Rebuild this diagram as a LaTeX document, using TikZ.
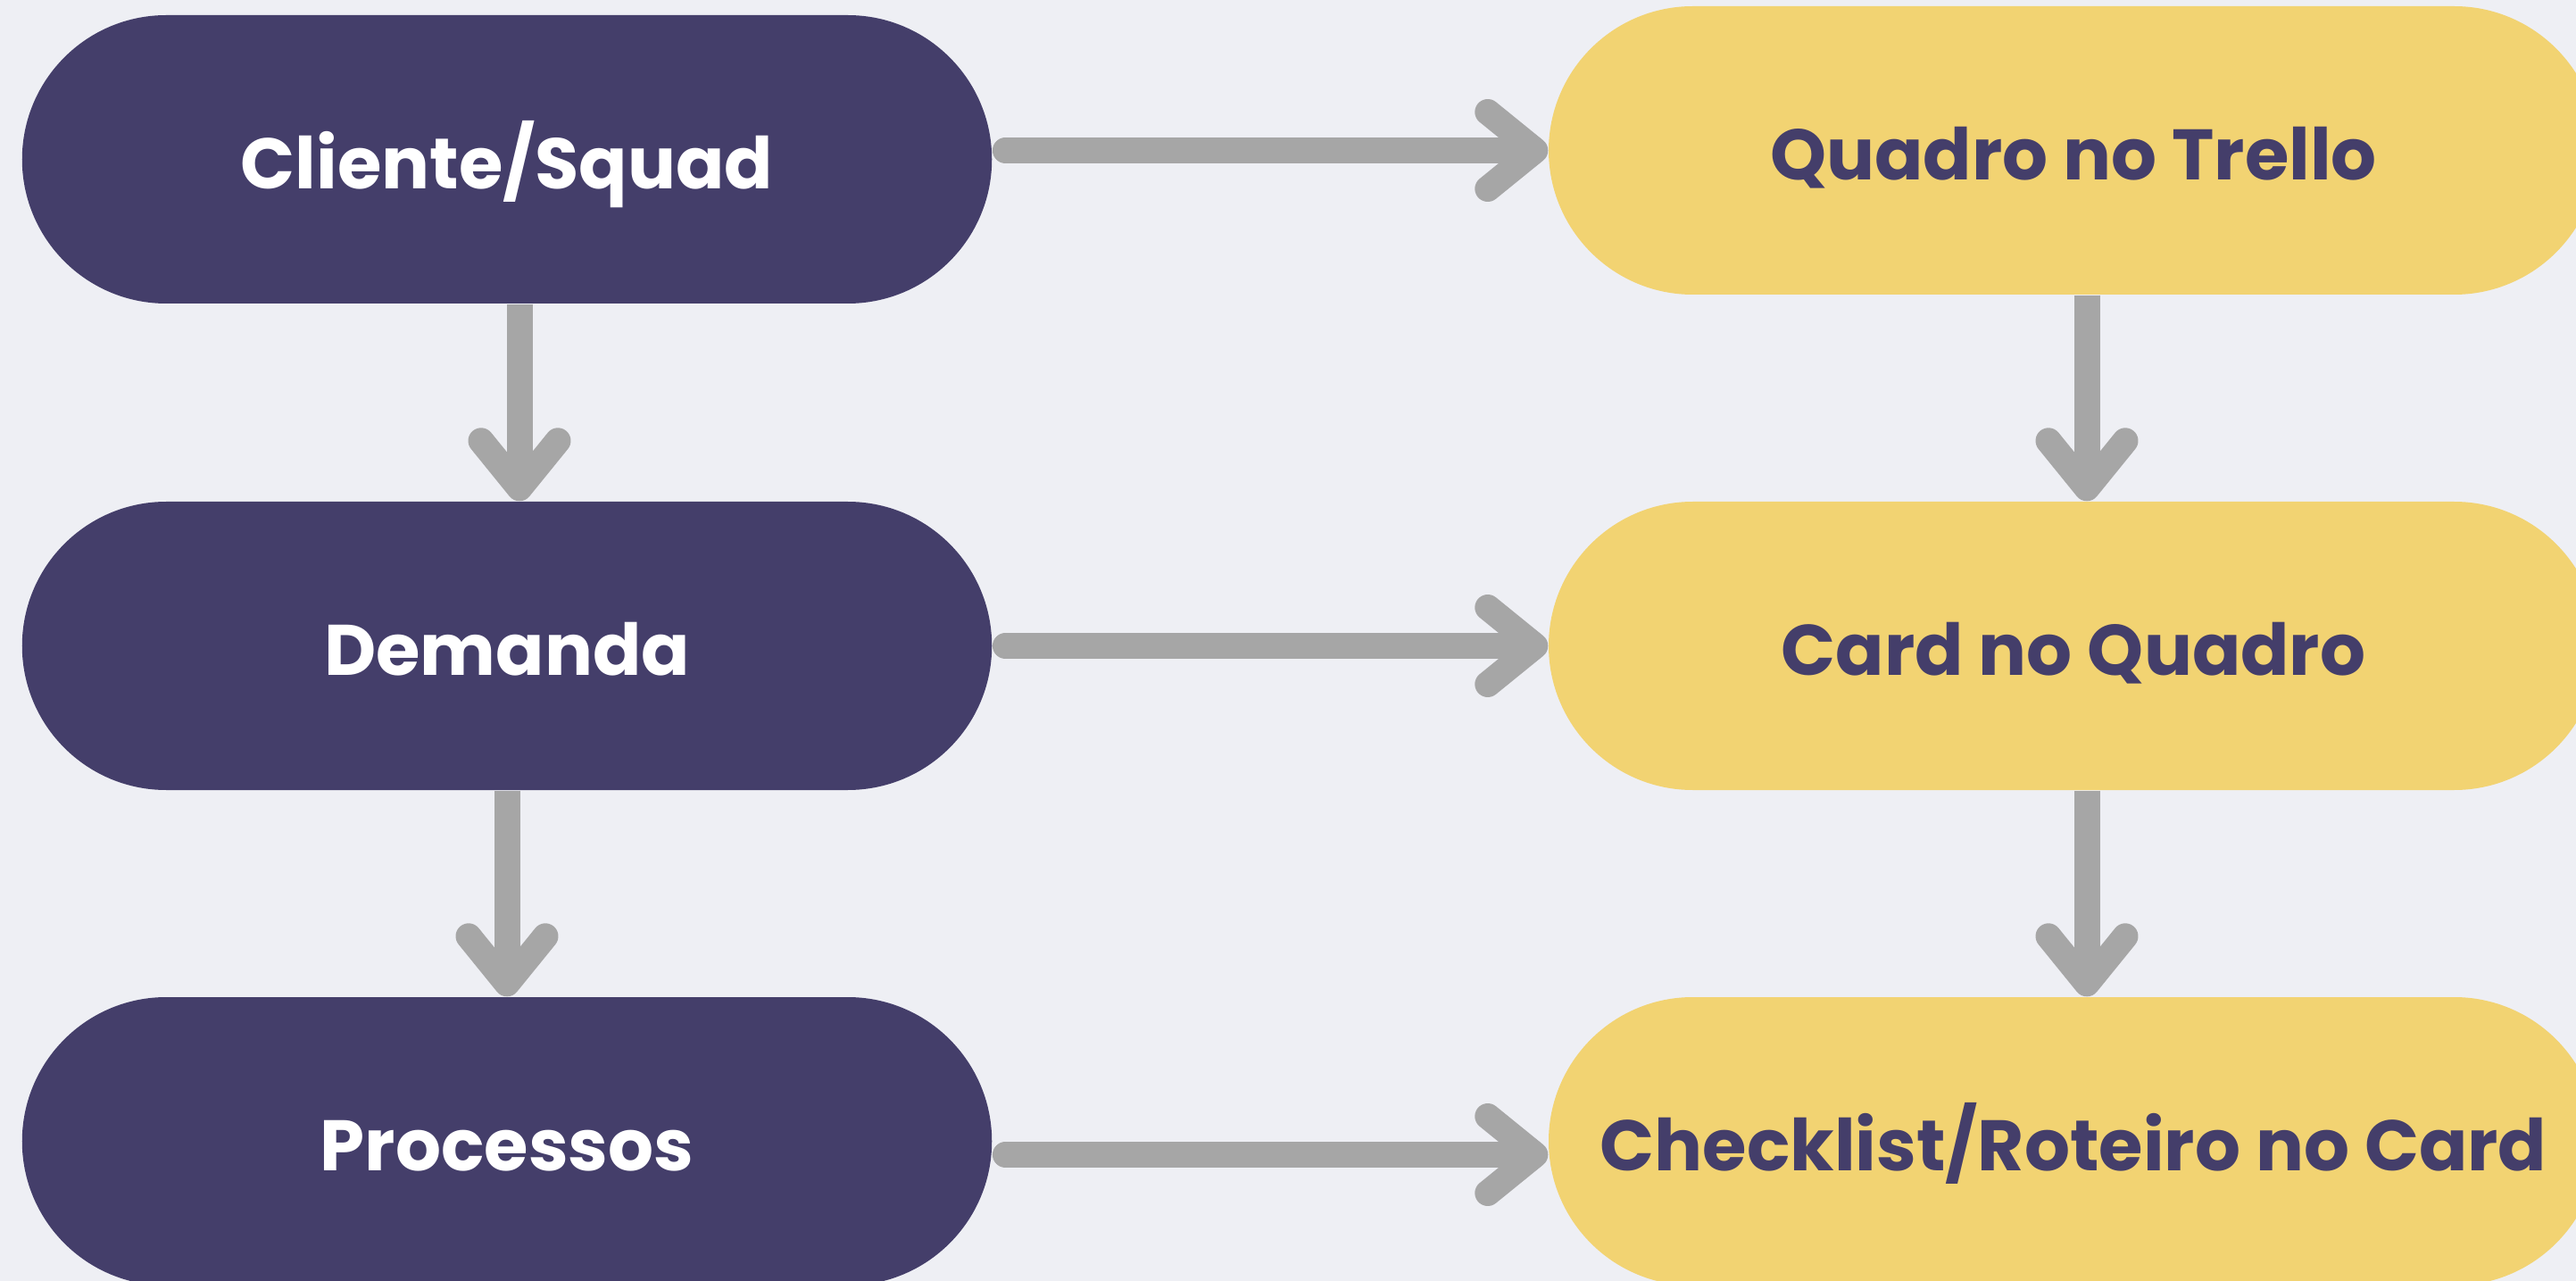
\documentclass[tikz,border=0pt]{standalone}
\usepackage{fontspec}
\setmainfont{Poppins}
\usetikzlibrary{arrows.meta,calc}
\definecolor{bgcol}{HTML}{EEEFF4}
\definecolor{navy}{HTML}{443E6A}
\definecolor{sand}{HTML}{F2D372}
\definecolor{arrowgray}{HTML}{A6A6A6}
\tikzset{>={Straight Barb[length=5.3mm, width=8.6mm, round]}}
\tikzset{box/.style={rectangle, rounded corners=1.615cm, inner sep=0pt,
    minimum height=3.23cm, text height=0.66cm, text depth=0pt,
    font=\fontsize{22.8}{24}\selectfont\bfseries}}
\tikzset{leftbox/.style={box, fill=navy, text=white, minimum width=10.865cm}}
\tikzset{rightbox/.style={box, fill=sand, text=navy, minimum width=11.76cm}}
\tikzset{conn/.style={draw=arrowgray, line width=2.9mm, ->}}

\begin{document}
\begin{tikzpicture}
      \fill[bgcol] (0,0) rectangle (28.86,-14.35);
      \useasboundingbox (0,0) rectangle (28.86,-14.35);
      \node[leftbox] (cs) at (5.68,-1.785) {Cliente/Squad};
      \node[leftbox] (dm) at (5.68,-7.235) {Demanda};
      \node[leftbox] (pr) at (5.68,-12.785) {Processos};
      \node[rightbox] (qt) at (23.23,-1.685) {Quadro no Trello};
      \node[rightbox] (cq) at (23.23,-7.235) {Card no Quadro};
      \node[rightbox] (cl) at (23.23,-12.785) {Checklist/Roteiro no Card};
      % down the columns
      \draw[conn] ($(cs.south)+(0.14,0)$) -- ($(dm.north)+(0.14,0)$);
      \draw[conn] (dm.south) -- (pr.north);
      \draw[conn] ($(qt.south)+(0.15,0)$) -- ($(cq.north)+(0.15,0)$);
      \draw[conn] ($(cq.south)+(0.15,0)$) -- ($(cl.north)+(0.15,0)$);
      % across
      \draw[conn, line cap=round] ($(cs.east |- qt.west)+(0.145,0)$) -- (qt.west);
      \draw[conn, line cap=round] ($(dm.east)+(0.145,0)$) -- (cq.west);
      \draw[conn, line cap=round] ($(pr.east)+(0.145,-0.15)$) -- ($(cl.west)+(0,-0.15)$);
\end{tikzpicture}
\end{document}
